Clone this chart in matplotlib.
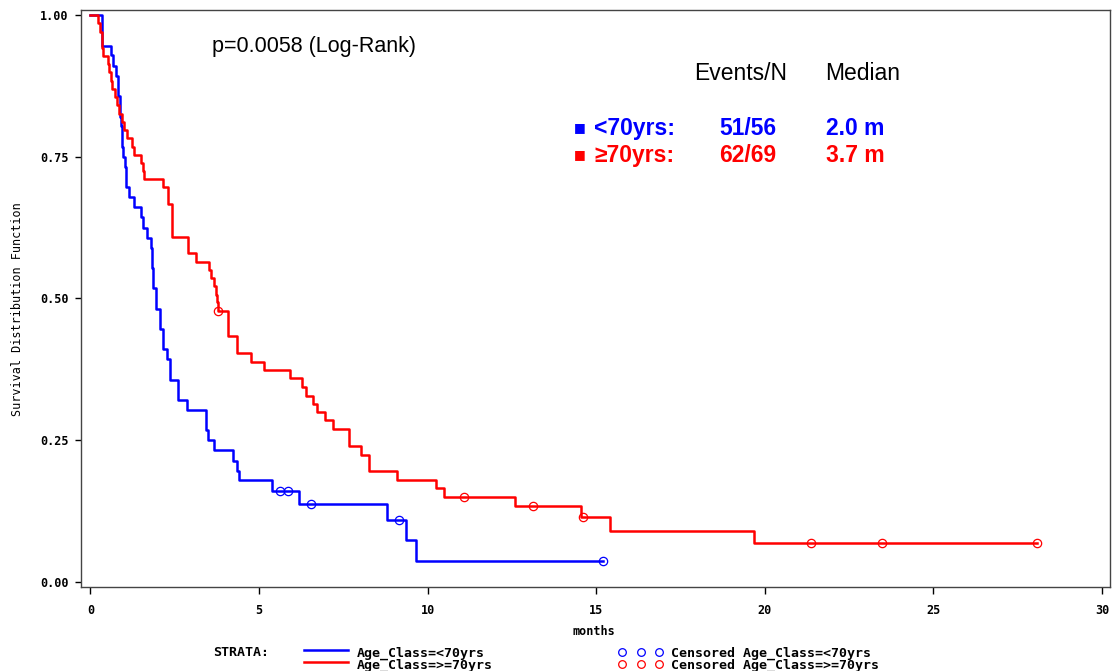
#!/usr/bin/env python

# import the necessary packages
import matplotlib
matplotlib.use('Agg')
import matplotlib.pyplot as plt
from matplotlib.lines import Line2D

# Kaplan-Meier step values (months, survival)
young_times = [0, 0.33, 0.61, 0.66, 0.76, 0.81, 0.88, 0.91, 0.95, 0.98, 1.03, 1.05, 1.15, 1.30,
               1.50, 1.57, 1.67, 1.79, 1.82, 1.85, 1.94, 2.06, 2.16, 2.27, 2.36, 2.59, 2.85,
               3.42, 3.48, 3.66, 4.23, 4.34, 4.41, 5.38, 6.18, 8.79, 9.36, 9.66]
young_surv = [1.0, 0.946, 0.929, 0.911, 0.893, 0.857, 0.821, 0.804, 0.768, 0.750, 0.732, 0.696,
              0.679, 0.661, 0.643, 0.625, 0.607, 0.589, 0.554, 0.518, 0.482, 0.446, 0.411,
              0.393, 0.357, 0.321, 0.304, 0.268, 0.250, 0.232, 0.214, 0.196, 0.179, 0.161,
              0.138, 0.110, 0.074, 0.037]
young_end = 15.2
young_cens_t = [5.62, 5.86, 6.54, 9.15, 15.2]
young_cens_s = [0.161, 0.161, 0.138, 0.110, 0.037]

old_times = [0, 0.23, 0.28, 0.33, 0.38, 0.51, 0.55, 0.60, 0.65, 0.73, 0.79, 0.85, 0.93, 1.00,
             1.07, 1.22, 1.29, 1.49, 1.55, 1.59, 2.16, 2.31, 2.41, 2.90, 3.13, 3.52, 3.59,
             3.66, 3.72, 3.76, 3.78, 4.09, 4.34, 4.76, 5.15, 5.92, 6.28, 6.38, 6.61, 6.73,
             6.97, 7.20, 7.67, 8.02, 8.26, 9.08, 10.24, 10.48, 12.59, 14.55, 15.41, 19.68]
old_surv = [1.0, 0.986, 0.971, 0.942, 0.928, 0.913, 0.899, 0.884, 0.870, 0.855, 0.841, 0.826,
            0.812, 0.797, 0.783, 0.768, 0.754, 0.739, 0.725, 0.710, 0.696, 0.667, 0.609,
            0.580, 0.565, 0.551, 0.536, 0.522, 0.507, 0.493, 0.478, 0.433, 0.403, 0.388,
            0.374, 0.359, 0.343, 0.328, 0.314, 0.299, 0.285, 0.269, 0.240, 0.224, 0.195,
            0.180, 0.165, 0.150, 0.134, 0.114, 0.090, 0.069]
old_end = 28.07
old_cens_t = [3.78, 11.09, 13.13, 14.62, 21.37, 23.47, 28.07]
old_cens_s = [0.478, 0.150, 0.134, 0.114, 0.069, 0.069, 0.069]

x_ticks = [0, 5, 10, 15, 20, 25, 30]
y_ticks = [0.0, 0.25, 0.50, 0.75, 1.00]

# summary table text
table_header = ['Events/N', 'Median']
group_labels = ['<70yrs:', '\u226570yrs:']
group_events = ['51/56', '62/69']
group_medians = ['2.0 m', '3.7 m']
group_colors = ['#0000ff', '#ff0000']
legend_labels = ['Age_Class=<70yrs', 'Age_Class=>=70yrs']

sans = ['Liberation Sans', 'DejaVu Sans']
mono = ['DejaVu Sans Mono']

fig = plt.figure(figsize=(11.16, 6.71), dpi=100)
ax = fig.add_axes([81 / 1116, 1 - 587 / 671, 1029 / 1116, 577 / 671])

# draw the two survival curves, red on top
ax.step(young_times + [young_end], young_surv + [young_surv[-1]], where='post',
        color=group_colors[0], lw=1.8)
ax.step(old_times + [old_end], old_surv + [old_surv[-1]], where='post',
        color=group_colors[1], lw=1.8)
ax.plot(young_cens_t, young_cens_s, 'o', mfc='none', mec=group_colors[0], ms=6, mew=0.9)
ax.plot(old_cens_t, old_cens_s, 'o', mfc='none', mec=group_colors[1], ms=6, mew=0.9)

# axes limits and ticks
ax.set_xlim(-0.28, 30.24)
ax.set_ylim(-0.009, 1.009)
ax.set_xticks(x_ticks)
ax.set_yticks(y_ticks)
ax.set_xticklabels([str(v) for v in x_ticks], family=mono, fontweight='bold', fontsize=8.5)
ax.set_yticklabels(['%.2f' % v for v in y_ticks], family=mono, fontweight='bold', fontsize=8.5)
ax.tick_params(axis='x', direction='out', length=5, width=1, pad=7)
ax.tick_params(axis='y', direction='out', length=4, width=1, pad=5)
for side in ax.spines:
    ax.spines[side].set_color('#444444')
    ax.spines[side].set_linewidth(1)

ax.set_xlabel('months', family=mono, fontweight='bold', fontsize=8.5)
ax.xaxis.set_label_coords(0.498, -0.066)
ax.set_ylabel('Survival Distribution Function', family=mono, fontsize=8.5)
ax.yaxis.set_label_coords(-0.055, 0.482)

# p-value and summary table
ax.text(0.1273, 0.927, 'p=0.0058 (Log-Rank)', transform=ax.transAxes, family=sans,
        fontsize=15.5, va='baseline')
ax.text(0.5957, 0.8787, table_header[0], transform=ax.transAxes, family=sans,
        fontsize=16.5, va='baseline')
ax.text(0.7230, 0.8787, table_header[1], transform=ax.transAxes, family=sans,
        fontsize=16.5, va='baseline')
row_y = [0.7834, 0.7366]
for i in range(2):
    ax.text(0.479, row_y[i] + 0.006, '\u25a0', transform=ax.transAxes, family=['DejaVu Sans'],
            fontsize=9, color=group_colors[i], va='baseline')
    ax.text(0.4985, row_y[i], group_labels[i], transform=ax.transAxes, family=sans,
            fontsize=16.5, fontweight='bold', color=group_colors[i], va='baseline')
    ax.text(0.6200, row_y[i], group_events[i], transform=ax.transAxes, family=sans,
            fontsize=16.5, fontweight='bold', color=group_colors[i], va='baseline')
    ax.text(0.7240, row_y[i], group_medians[i], transform=ax.transAxes, family=sans,
            fontsize=16.5, fontweight='bold', color=group_colors[i], va='baseline')

# SAS style legend under the plot, drawn in pixel coordinates
leg = fig.add_axes([0, 0, 1, 40 / 671])
leg.set_xlim(0, 1116)
leg.set_ylim(671, 631)
leg.axis('off')
leg.text(213, 653, 'STRATA:', family=mono, fontsize=9.5, fontweight='bold', va='center')
for i in range(2):
    yl = 650 + 12 * i
    leg.add_line(Line2D([304, 348], [yl, yl], color=group_colors[i], lw=1.8))
    leg.text(357, yl + 3, legend_labels[i], family=mono, fontsize=9.5, fontweight='bold',
             va='center')
    leg.plot([622, 641, 659], [yl + 2, yl + 2, yl + 2], 'o', mfc='none', mec=group_colors[i],
             ms=5.5, mew=0.9, clip_on=False)
    leg.text(671, yl + 3, 'Censored ' + legend_labels[i], family=mono, fontsize=9.5,
             fontweight='bold', va='center')

plt.savefig('out.png', dpi=100)
plt.close(fig)
